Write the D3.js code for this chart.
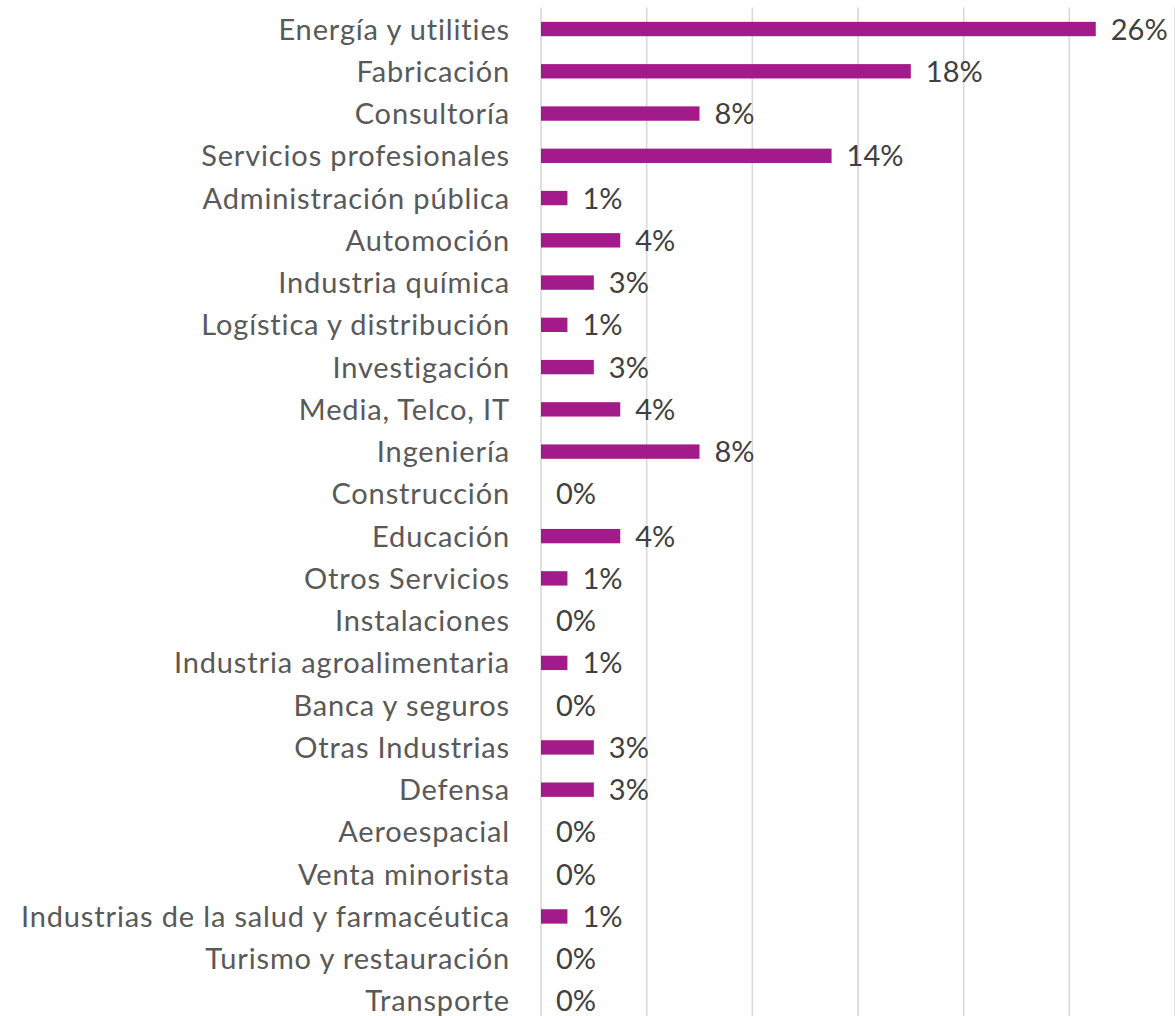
<!DOCTYPE html>
<html>
<head>
<meta charset="utf-8">
<script src="https://d3js.org/d3.v7.min.js"></script>
<style>
  body { margin: 0; background: #fff; }
  text { font-family: Lato, "Open Sans", sans-serif; }
</style>
</head>
<body>
<script>
// sectores y porcentaje de respuestas
const sectores = [
  "Energía y utilities", "Fabricación", "Consultoría", "Servicios profesionales",
  "Administración pública", "Automoción", "Industria química", "Logística y distribución",
  "Investigación", "Media, Telco, IT", "Ingeniería", "Construcción", "Educación",
  "Otros Servicios", "Instalaciones", "Industria agroalimentaria", "Banca y seguros",
  "Otras Industrias", "Defensa", "Aeroespacial", "Venta minorista",
  "Industrias de la salud y farmacéutica", "Turismo y restauración", "Transporte"
];
const porcentajes = [
  26.25, 17.5, 7.5, 13.75, 1.25, 3.75, 2.5, 1.25, 2.5, 3.75, 7.5, 0, 3.75,
  1.25, 0, 1.25, 0, 2.5, 2.5, 0, 0, 1.25, 0, 0
];
const ticks = [0, 5, 10, 15, 20, 25, 30];

const W = 1175, H = 1016;
const svg = d3.select("body").append("svg").attr("width", W).attr("height", H);

const x = d3.scaleLinear().domain([0, 30]).range([541, 1175]);
const y = d3.scaleBand().domain(sectores).range([7.9, 1022.1])
  .paddingInner(0.66).paddingOuter(0.33);

// lineas de cuadricula
svg.append("g").selectAll("line")
  .data(ticks)
  .enter().append("line")
  .attr("x1", d => x(d)).attr("x2", d => x(d))
  .attr("y1", 7.5).attr("y2", H)
  .attr("stroke", "#d9d9d9")
  .attr("stroke-width", 1.6);

const data = sectores.map((s, i) => ({ s: s, v: porcentajes[i] }));

svg.append("g").selectAll("rect")
  .data(data.filter(d => d.v > 0))
  .enter().append("rect")
  .attr("x", x(0))
  .attr("y", d => y(d.s))
  .attr("width", d => x(d.v) - x(0))
  .attr("height", y.bandwidth())
  .attr("fill", "#a31a8a");

// etiquetas de categoria
svg.append("g").selectAll("text")
  .data(sectores)
  .enter().append("text")
  .attr("x", 510)
  .attr("y", d => y(d) + y.bandwidth() / 2 + 10.5)
  .attr("text-anchor", "end")
  .attr("font-size", 29)
  .attr("letter-spacing", 0.85)
  .attr("fill", "#595959")
  .text(d => d);

// etiquetas de valor
svg.append("g").selectAll("text")
  .data(data)
  .enter().append("text")
  .attr("x", d => x(d.v) + 15)
  .attr("y", d => y(d.s) + y.bandwidth() / 2 + 10.5)
  .attr("font-size", 29)
  .attr("fill", "#404040")
  .text(d => Math.round(d.v) + "%");
</script>
</body>
</html>
